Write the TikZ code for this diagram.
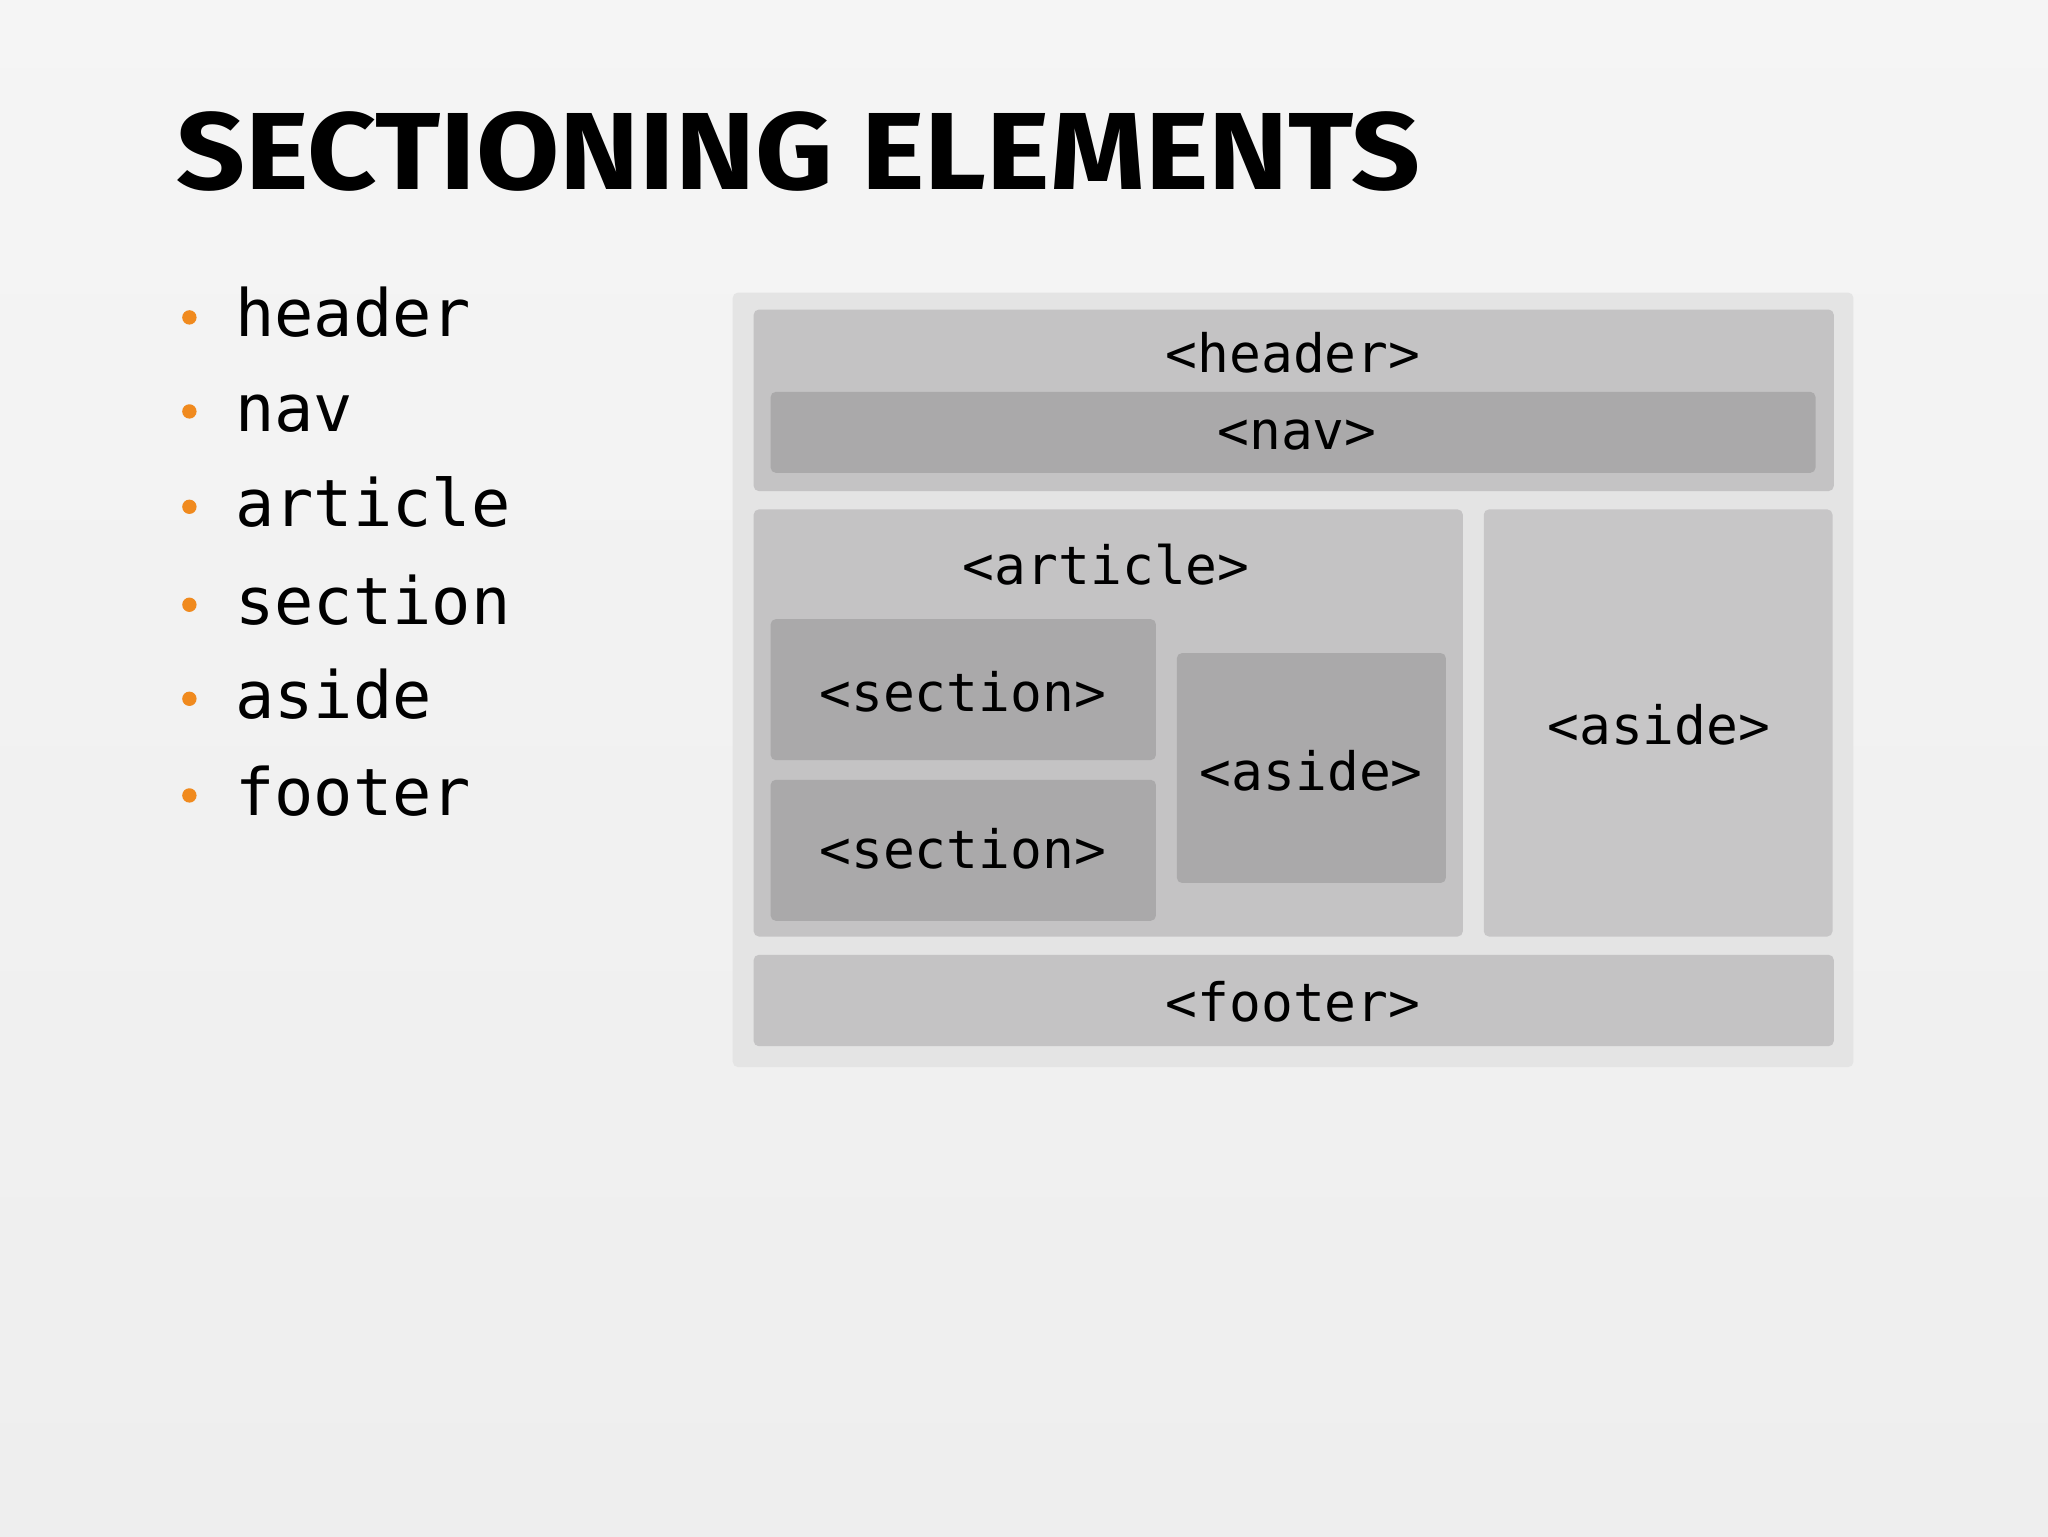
\documentclass[tikz,border=0pt]{standalone}
\usepackage{fontspec}
\setmainfont{DejaVu Sans Mono}
\newfontfamily\titlefont{Fira Sans}
\definecolor{bg}{HTML}{EEEEEE}
\definecolor{outerc}{HTML}{E4E4E4}
\definecolor{lightbox}{HTML}{C4C3C4}
\definecolor{darkbox}{HTML}{AAA9AA}
\definecolor{orangeb}{HTML}{F08A1E}
\tikzset{
  box/.style={rounded corners=4pt,draw=none},
  lbl/.style={font=\fontsize{40.5}{42}\selectfont,text=black},
  item/.style={font=\fontsize{50}{52}\selectfont,anchor=base west,text=black},
  dot/.style={circle,fill=orangeb,inner sep=0pt,minimum size=11pt}
}
\begin{document}
\begin{tikzpicture}[x=1pt,y=-1pt]
\shade[top color=bg!60!white,bottom color=bg] (0,0) rectangle (1568,1176);
\useasboundingbox (0,0) rectangle (1568,1176);
\node[font=\titlefont\bfseries\fontsize{84}{90}\selectfont,anchor=base west,inner sep=0pt,xscale=1.1] (title) at (135,145) {SECTIONING ELEMENTS};
\foreach \t/\y [count=\i] in {header/258,nav/330,article/403,section/478,aside/550,footer/624}{
  \node[dot] (d\i) at (145,\y-15) {};
  \node[item,inner sep=0pt] (it\i) at (180,\y) {\t};
}
\fill[box,outerc] (561,224) rectangle (1419,817);
\fill[box,lightbox] (577,237) rectangle (1404,376);
\node[lbl] (hdr) at (990,270) {<header>};
\fill[box,darkbox] (590,300) rectangle (1390,362);
\node[lbl] (nav) at (993,333) {<nav>};
\fill[box,lightbox] (577,390) rectangle (1120,717);
\node[lbl] (art) at (847,432) {<article>};
\fill[box,darkbox] (590,474) rectangle (885,582);
\node[lbl] (s1) at (737,530) {<section>};
\fill[box,darkbox] (590,597) rectangle (885,705);
\node[lbl] (s2) at (737,650) {<section>};
\fill[box,darkbox] (901,500) rectangle (1107,676);
\node[lbl] (ia) at (1004,590) {<aside>};
\fill[box,lightbox!95!white] (1136,390) rectangle (1403,717);
\node[lbl] (as) at (1270,555) {<aside>};
\fill[box,lightbox] (577,731) rectangle (1404,801);
\node[lbl] (ft) at (990,767) {<footer>};
\end{tikzpicture}
\end{document}
